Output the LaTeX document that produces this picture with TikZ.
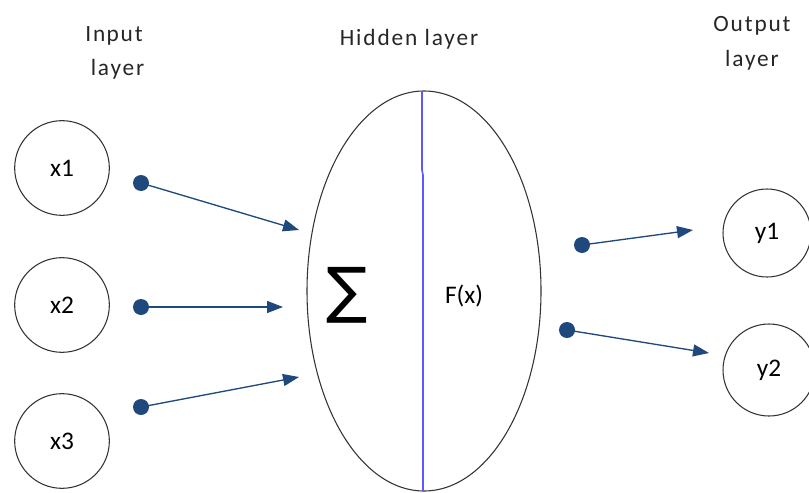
\documentclass[tikz,border=0pt]{standalone}
\usepackage{fontspec}
\setmainfont{Carlito}
\newfontfamily\symfont{DejaVu Sans}
\newfontfamily\spacedfont[LetterSpace=8]{Carlito}
\usetikzlibrary{arrows.meta}
\definecolor{arrowblue}{RGB}{31,73,125}
\definecolor{lineblue}{RGB}{90,90,255}
\begin{document}
\begin{tikzpicture}[x=0.75pt,y=-0.75pt,
  neuron/.style={draw=black!80,line width=0.8pt,circle,minimum size=#1,inner sep=0pt,font=\fontsize{19}{21}\selectfont},
  dot/.style={circle,fill=arrowblue,minimum size=12pt,inner sep=0pt},
  conn/.style={draw=arrowblue,line width=1pt,-{Triangle[length=12pt,width=9pt]}},
  lbl/.style={align=center,font=\spacedfont\fontsize{17.5}{26}\selectfont,text=black!85}]
\useasboundingbox (0,0) rectangle (809,492);
% layer labels
\node[lbl] (inlbl) at (114,53) {In\kern1pt put\\ \ layer};
\node[lbl] (hidlbl) at (409,39) {Hidden layer};
\node[lbl] (outlbl) at (752,43) {Output\\layer};
% input neurons
\node[neuron=71pt] (x1) at (62,168) {x1};
\node[neuron=71pt] (x2) at (62,305) {x2};
\node[neuron=71pt] (x3) at (62,441) {x3};
% hidden ellipse
\draw[black!80,line width=0.8pt] (424,291) ellipse [x radius=117, y radius=200];
\coordinate (ltop) at (422,91);
\coordinate (lmid) at (422,170);
\coordinate (lmid2) at (423,175);
\coordinate (lbot) at (423,491);
\draw[lineblue,line width=1.2pt] (ltop) -- (lmid) -- (lmid2) -- (lbot);
\node[inner sep=0pt] (sigma) at (347,295) {\symfont\fontsize{46}{46}\selectfont ∑};
\node[font=\fontsize{19}{21}\selectfont] (fx) at (464,296) {F(x)};
% output neurons
\node[neuron=66pt] (y1) at (767,233) {y1};
\node[neuron=69pt] (y2) at (769,370) {y2};
% dots and arrow tips
\node[dot] (d1) at (141,183) {};
\node[dot] (d2) at (141,307) {};
\node[dot] (d3) at (141,407) {};
\node[dot] (d4) at (582,245) {};
\node[dot] (d5) at (567,330) {};
\coordinate (t1) at (299,230);
\coordinate (t2) at (283,307);
\coordinate (t3) at (299,377);
\coordinate (t4) at (693,230);
\coordinate (t5) at (709,353);
\draw[conn] (d1.center) -- (t1);
\draw[conn] (d2.center) -- (t2);
\draw[conn] (d3.center) -- (t3);
\draw[conn] (d4.center) -- (t4);
\draw[conn] (d5.center) -- (t5);
\end{tikzpicture}
\end{document}
